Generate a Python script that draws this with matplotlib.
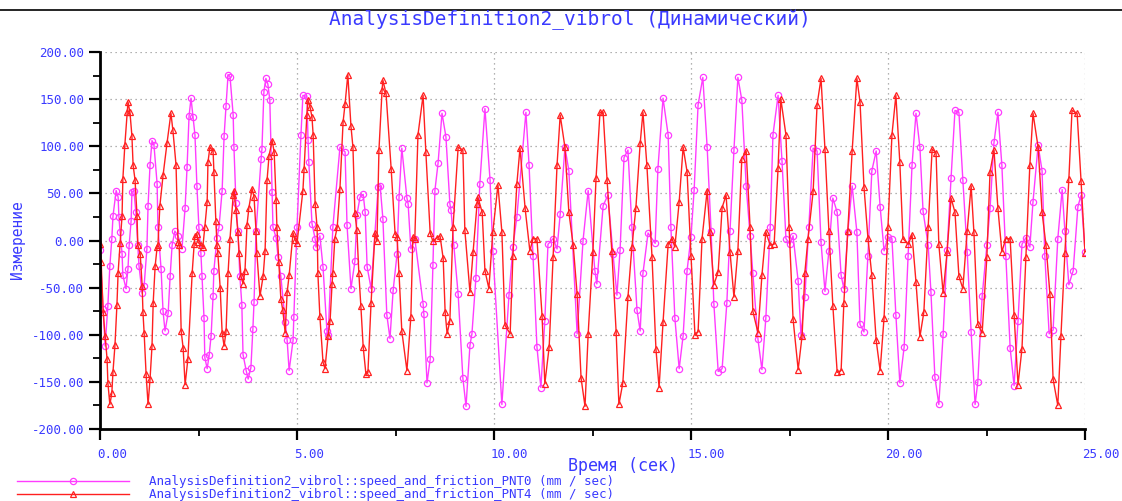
import matplotlib
matplotlib.use('Agg')
import matplotlib.pyplot as plt
from matplotlib.lines import Line2D
from matplotlib.ticker import MultipleLocator, FormatStrFormatter
from matplotlib.transforms import ScaledTranslation

# --- data (time in s, speed in mm/s) ---
t_pnt0 = [0.00, 0.08, 0.13, 0.20, 0.25, 0.30, 0.33, 0.41, 0.46, 0.48, 0.51, 0.56, 0.58, 0.66, 0.71,
          0.74, 0.79, 0.81, 0.86, 0.91, 0.96, 0.99, 1.07, 1.12, 1.19, 1.22, 1.27, 1.32, 1.37, 1.45,
          1.47, 1.55, 1.60, 1.65, 1.73, 1.78, 1.83, 1.90, 1.98, 2.08, 2.16, 2.21, 2.26, 2.31, 2.36,
          2.41, 2.46, 2.51, 2.56, 2.59, 2.64, 2.66, 2.72, 2.77, 2.82, 2.87, 2.89, 2.97, 3.02, 3.10,
          3.15, 3.20, 3.25, 3.30, 3.38, 3.40, 3.45, 3.50, 3.55, 3.60, 3.63, 3.71, 3.76, 3.83, 3.88,
          3.91, 3.96, 4.09, 4.11, 4.16, 4.21, 4.26, 4.31, 4.37, 4.39, 4.47, 4.52, 4.59, 4.70, 4.75,
          4.80, 4.90, 4.92, 5.00, 5.10, 5.15, 5.25, 5.28, 5.30, 5.38, 5.46, 5.48, 5.58, 5.66, 5.76,
          5.79, 5.91, 6.09, 6.22, 6.27, 6.37, 6.47, 6.52, 6.60, 6.68, 6.73, 6.78, 6.88, 7.06, 7.11,
          7.18, 7.28, 7.36, 7.44, 7.54, 7.59, 7.66, 7.79, 7.82, 7.89, 7.99, 8.20, 8.22, 8.30, 8.38,
          8.45, 8.50, 8.58, 8.68, 8.78, 8.88, 8.91, 8.98, 9.09, 9.21, 9.29, 9.39, 9.44, 9.54, 9.64,
          9.77, 9.90, 9.97, 10.20, 10.38, 10.48, 10.58, 10.81, 10.89, 10.99, 11.09, 11.19, 11.29,
          11.37, 11.50, 11.60, 11.68, 11.80, 11.90, 12.11, 12.26, 12.39, 12.56, 12.61, 12.77, 12.89,
          13.02, 13.12, 13.20, 13.30, 13.40, 13.50, 13.63, 13.71, 13.78, 13.91, 14.09, 14.16, 14.29,
          14.42, 14.49, 14.59, 14.70, 14.80, 14.90, 15.00, 15.08, 15.18, 15.30, 15.41, 15.51, 15.58,
          15.69, 15.79, 15.91, 15.99, 16.09, 16.19, 16.29, 16.40, 16.50, 16.57, 16.70, 16.80, 16.90,
          17.01, 17.08, 17.21, 17.31, 17.41, 17.51, 17.59, 17.72, 17.79, 17.89, 17.99, 18.10, 18.20,
          18.30, 18.40, 18.50, 18.60, 18.71, 18.81, 18.88, 18.98, 19.09, 19.21, 19.29, 19.39, 19.49,
          19.59, 19.70, 19.80, 19.90, 20.00, 20.10, 20.20, 20.30, 20.41, 20.51, 20.61, 20.71, 20.81,
          20.89, 21.02, 21.09, 21.19, 21.29, 21.40, 21.50, 21.60, 21.70, 21.80, 21.90, 22.01, 22.11,
          22.21, 22.28, 22.39, 22.51, 22.59, 22.69, 22.79, 22.89, 22.99, 23.10, 23.20, 23.30, 23.40,
          23.50, 23.60, 23.68, 23.81, 23.91, 23.98, 24.09, 24.19, 24.31, 24.42, 24.49, 24.59, 24.70,
          24.82, 24.90, 25.00]
v_pnt0 = [-10, -73, -112, -69, -27, 2, 26, 53, 46, 25, 9, -14, -37, -51, -30,
          -5, 21, 51, 53, 30, -5, -27, -56, -48, -9, 37, 80, 106, 101, 60,
          14, -30, -75, -96, -77, -38, -5, 10, 5, -9, 35, 78, 132, 151, 131,
          112, 58, 14, -13, -38, -82, -124, -136, -122, -101, -59, -32, 3, 14, 53,
          111, 143, 176, 174, 133, 99, 40, 10, -38, -68, -121, -138, -147, -135, -94,
          -65, 10, 87, 97, 158, 172, 166, 149, 51, 14, 3, -18, -38, -86, -106,
          -138, -106, -81, 14, 112, 154, 153, 107, 83, 18, 2, -7, 5, -28, -96,
          -100, 14, 99, 94, 16, -51, -22, 27, 46, 49, 30, -28, -51, 57, 58,
          23, -79, -104, -53, -14, 46, 98, 45, 39, -9, 2, -67, -78, -151, -126,
          -26, 53, 82, 135, 110, 39, 32, -5, -57, -146, -176, -111, -99, -40, 60,
          140, 64, -11, -174, -58, -7, 25, 136, 80, -16, -113, -156, -85,
          -4, 2, -9, 28, 99, 74, -99, 0, 53, -32, -46, 37, 48,
          -14, -58, -10, 88, 96, 14, -74, -96, -35, 8, -3, 76, 151,
          112, 14, -82, -136, -101, -32, 4, 54, 144, 173, 99, 10, -67,
          -139, -136, -66, 10, 96, 173, 149, 58, 5, -35, -105, -137, -82,
          14, 112, 154, 84, 2, -4, 5, -43, -100, -60, 14, 98, 95,
          -2, -54, -11, 45, 30, -37, -51, 9, 58, 9, -89, -97, -16,
          74, 95, 36, -11, 4, 2, -79, -151, -113, -16, 80, 135, 99,
          31, -5, -55, -145, -174, -99, -10, 66, 138, 136, 64, -12, -97,
          -174, -150, -59, -5, 34, 104, 136, 80, -16, -114, -154, -85, -4,
          3, -7, 41, 101, 74, -16, -99, -95, 2, 54, 10, -47, -32,
          36, 48, -12]

t_pnt4 = [0.00, 0.03, 0.08, 0.13, 0.18, 0.20, 0.25, 0.30, 0.33, 0.38, 0.43, 0.46, 0.51, 0.56, 0.58,
          0.63, 0.69, 0.71, 0.76, 0.81, 0.84, 0.89, 0.94, 0.96, 1.02, 1.07, 1.09, 1.12, 1.17, 1.22,
          1.27, 1.32, 1.35, 1.40, 1.45, 1.47, 1.52, 1.60, 1.70, 1.80, 1.85, 1.93, 1.98, 2.01, 2.06,
          2.11, 2.16, 2.23, 2.34, 2.39, 2.41, 2.46, 2.49, 2.56, 2.61, 2.66, 2.72, 2.74, 2.79, 2.87,
          2.89, 2.94, 2.97, 2.99, 3.05, 3.10, 3.15, 3.20, 3.25, 3.30, 3.38, 3.40, 3.45, 3.50, 3.53,
          3.58, 3.63, 3.68, 3.73, 3.78, 3.86, 3.91, 3.96, 3.98, 4.06, 4.14, 4.19, 4.24, 4.29, 4.37,
          4.42, 4.47, 4.49, 4.54, 4.59, 4.64, 4.70, 4.75, 4.80, 4.90, 4.95, 5.00, 5.15, 5.18, 5.25,
          5.28, 5.33, 5.38, 5.41, 5.46, 5.51, 5.53, 5.58, 5.66, 5.71, 5.79, 5.84, 5.89, 5.91, 5.96,
          6.02, 6.09, 6.17, 6.22, 6.29, 6.37, 6.42, 6.47, 6.52, 6.57, 6.62, 6.68, 6.75, 6.80, 6.88,
          6.98, 7.03, 7.08, 7.16, 7.18, 7.26, 7.39, 7.49, 7.54, 7.59, 7.66, 7.79, 7.89, 7.94, 7.99,
          8.07, 8.20, 8.27, 8.38, 8.45, 8.55, 8.63, 8.71, 8.76, 8.81, 8.88, 8.96, 9.09, 9.21, 9.26,
          9.39, 9.47, 9.57, 9.59, 9.70, 9.77, 9.87, 9.97, 10.10, 10.20, 10.28, 10.41, 10.48, 10.58,
          10.66, 10.79, 10.91, 10.99, 11.09, 11.22, 11.29, 11.40, 11.50, 11.60, 11.68, 11.80, 11.90,
          12.01, 12.11, 12.21, 12.31, 12.39, 12.51, 12.59, 12.69, 12.77, 12.87, 12.99, 13.10, 13.17,
          13.27, 13.40, 13.50, 13.60, 13.71, 13.78, 13.88, 14.01, 14.11, 14.19, 14.29, 14.42, 14.52,
          14.59, 14.70, 14.80, 14.90, 15.00, 15.10, 15.18, 15.28, 15.41, 15.48, 15.58, 15.69, 15.79,
          15.89, 15.99, 16.09, 16.19, 16.29, 16.40, 16.50, 16.57, 16.70, 16.80, 16.90, 17.01, 17.11,
          17.21, 17.28, 17.41, 17.49, 17.59, 17.72, 17.82, 17.89, 17.97, 18.10, 18.20, 18.30, 18.40,
          18.50, 18.60, 18.71, 18.81, 18.88, 18.98, 19.09, 19.21, 19.29, 19.39, 19.49, 19.59, 19.70,
          19.80, 19.90, 20.00, 20.10, 20.20, 20.30, 20.38, 20.51, 20.61, 20.71, 20.81, 20.91, 21.02,
          21.12, 21.22, 21.29, 21.40, 21.50, 21.60, 21.70, 21.80, 21.90, 22.01, 22.11, 22.18, 22.28,
          22.39, 22.51, 22.59, 22.69, 22.79, 22.89, 22.99, 23.10, 23.20, 23.30, 23.40, 23.50, 23.60,
          23.68, 23.81, 23.91, 24.01, 24.11, 24.19, 24.31, 24.39, 24.49, 24.59, 24.67, 24.80, 24.90,
          25.00]
v_pnt4 = [-4, -23, -76, -101, -126, -151, -174, -162, -139, -111, -68, -34, -3, 26, 65,
          101, 136, 147, 136, 111, 80, 64, 26, -5, -14, -48, -76, -98, -142, -174,
          -147, -112, -66, -27, -7, -5, 37, 69, 103, 135, 117, 80, -2, -5, -96,
          -114, -153, -126, -34, -4, 5, 7, -2, -5, -7, 14, 41, 83, 99, 95,
          73, 21, -5, -13, -50, -98, -112, -96, -35, 2, 48, 53, 32, 9, -13,
          -38, -46, -32, 16, 35, 55, 46, 10, -13, -59, -38, -11, 64, 90, 106,
          94, 43, 14, -23, -62, -74, -98, -55, -37, 8, 1, -3, 53, 76, 133,
          149, 142, 131, 112, 39, 14, -35, -80, -129, -136, -101, -85, -46, -34, 2,
          14, 55, 126, 145, 176, 121, 99, 29, 11, -35, -69, -113, -142, -140, -66,
          8, -1, 96, 160, 170, 156, 76, 7, 4, -35, -96, -138, -81, 4, 2,
          112, 154, 94, 8, -1, 3, 5, -19, -76, -99, -85, 14, 99, 96, 11,
          -55, -12, 39, 46, 30, -32, -51, 9, 59, 9, -90, -99, -16, 60,
          98, 34, -11, 2, 2, -80, -152, -113, -18, 80, 133, 99, 30,
          -5, -57, -146, -176, -99, -12, 66, 136, 136, 64, -11, -97, -174,
          -151, -60, -7, 34, 103, 136, 80, -17, -115, -156, -87, -4, 2,
          -7, 41, 99, 73, -16, -100, -97, 2, 53, 9, -47, -33, 35,
          48, -12, -60, -11, 87, 95, 14, -75, -98, -37, 9, -5, -4,
          77, 150, 112, 14, -83, -137, -101, -34, 2, 52, 144, 172, 97,
          10, -69, -140, -138, -66, 10, 95, 172, 147, 57, 3, -37, -106,
          -138, -82, 14, 112, 154, 83, 2, -4, 6, -44, -102, -76, 14,
          97, 93, -4, -56, -12, 45, 30, -38, -51, 10, 58, 9, -89,
          -98, -17, 73, 96, 34, -12, 2, 2, -79, -153, -115, -17, 80,
          135, 99, 30, -5, -57, -147, -175, -101, -13, 65, 138, 135, 63,
          -13]

label_pnt0 = 'AnalysisDefinition2_vibrol::speed_and_friction_PNT0 (mm / sec)'
label_pnt4 = 'AnalysisDefinition2_vibrol::speed_and_friction_PNT4 (mm / sec)'

BLUE = '#3a3aff'
MAGENTA = '#ff3cff'
RED = '#ff2020'
FONT = 'DejaVu Sans Mono'

fig = plt.figure(figsize=(11.22, 5.01), dpi=100)
ax = fig.add_axes([100 / 1122, 1 - 429 / 501, 985 / 1122, 377 / 501])

l0, = ax.plot(t_pnt0, v_pnt0, color=MAGENTA, lw=1.0, marker='o', ms=4.5,
              mfc='none', mec=MAGENTA, mew=0.9, label=label_pnt0)
l4, = ax.plot(t_pnt4, v_pnt4, color=RED, lw=1.0, marker='^', ms=5,
              mfc='none', mec=RED, mew=0.9, label=label_pnt4)

ax.set_xlim(0, 25)
ax.set_ylim(-200, 200)
ax.xaxis.set_major_locator(MultipleLocator(5))
ax.xaxis.set_minor_locator(MultipleLocator(2.5))
ax.yaxis.set_major_locator(MultipleLocator(50))
ax.yaxis.set_minor_locator(MultipleLocator(25))
ax.xaxis.set_major_formatter(FormatStrFormatter('%.2f'))
ax.yaxis.set_major_formatter(FormatStrFormatter('%.2f'))

ax.grid(True, which='major', ls=(0, (1, 3)), color='#999999', lw=0.9)
for s in ['top', 'right']:
    ax.spines[s].set_visible(False)
for s in ['left', 'bottom']:
    ax.spines[s].set_linewidth(2)
    ax.spines[s].set_color('black')

ax.tick_params(which='major', length=8, width=1.6, color='black',
               labelcolor=BLUE, labelsize=9)
ax.tick_params(which='minor', length=5, width=1.3, color='black')
ax.tick_params(axis='x', pad=6)
shift = ScaledTranslation(-3 / 100, 0, fig.dpi_scale_trans)
for tick in ax.xaxis.get_major_ticks():
    tick.label1.set_horizontalalignment('left')
    tick.label1.set_transform(tick.label1.get_transform() + shift)
for lbl in ax.get_xticklabels() + ax.get_yticklabels():
    lbl.set_fontfamily(FONT)

fig.text(0.508, 1 - 20 / 501, 'AnalysisDefinition2_vibrol (Динамический)',
         ha='center', va='center', color=BLUE, fontsize=14, family=FONT)
fig.text(0.555, 1 - 466 / 501, 'Время (сек)', ha='center', va='center',
         color=BLUE, fontsize=12, family=FONT)
fig.text(18 / 1122, 1 - 240 / 501, 'Измерение', ha='center', va='center',
         rotation=90, color=BLUE, fontsize=10.5, family=FONT)

fig.add_artist(Line2D([0, 1], [1 - 10 / 501] * 2, color='black', lw=1.2))

leg = fig.legend(handles=[l0, l4], loc='lower left', bbox_to_anchor=(8 / 1122, -9 / 501),
                 frameon=False, handlelength=9, handletextpad=1.6,
                 labelspacing=0.0, borderpad=0.2, labelcolor=BLUE,
                 prop={'family': FONT, 'size': 9})

fig.savefig('out.png', dpi=100)
